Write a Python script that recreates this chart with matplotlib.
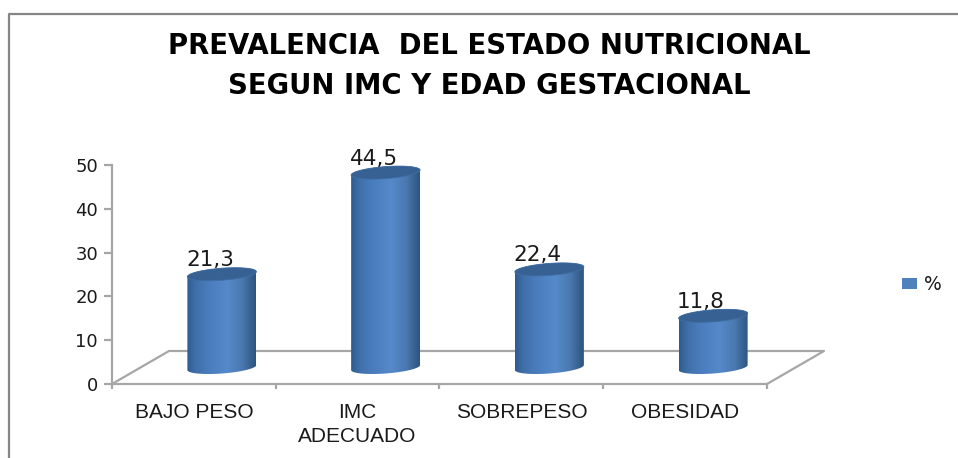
import numpy as np
import matplotlib
matplotlib.use("Agg")
from matplotlib import pyplot as plt
from matplotlib.colors import LinearSegmentedColormap
from matplotlib.lines import Line2D
from matplotlib.patches import Polygon, Rectangle

categories = ["BAJO PESO", "IMC\nADECUADO", "SOBREPESO", "OBESIDAD"]
values = [21.3, 44.5, 22.4, 11.8]
value_labels = ["21,3", "44,5", "22,4", "11,8"]
y_ticks = [0, 10, 20, 30, 40, 50]
title = "PREVALENCIA  DEL ESTADO NUTRICIONAL\nSEGUN IMC Y EDAD GESTACIONAL"
series_name = "%"

W, H = 958, 458
GREY = "#a6a6a6"
TXT = "#1a1a1a"

fig = plt.figure(figsize=(W / 100, H / 100), dpi=100)

# frame around the chart, pixel coordinates (no right side in the picture)
fig.add_artist(Line2D([9 / W, 9 / W, 1], [0, 1 - 14 / H, 1 - 14 / H],
                      color="#868686", lw=1.6))

# plot area: x 112..767, y 384..165 in pixels
ax = fig.add_axes([112 / W, 1 - 384 / H, 655 / W, 219 / H])
ax.set_xlim(-0.5, 3.5)
ax.set_ylim(0, 50)
ax.patch.set_visible(False)
for s in ["top", "right"]:
    ax.spines[s].set_visible(False)
for s in ["left", "bottom"]:
    ax.spines[s].set_color(GREY)
    ax.spines[s].set_linewidth(1.6)

px_x = 4 / 655  # data units per pixel
px_y = 50 / 219

# floor of the 3d box
depth_x = 57 * px_x
depth_y = 33 * px_y
ax.plot([-0.5, -0.5 + depth_x, 3.5 + depth_x, 3.5], [0, depth_y, depth_y, 0],
        color=GREY, lw=1.6, clip_on=False, zorder=1)

cyl = LinearSegmentedColormap.from_list(
    "cyl", [(0, "#2f5b8e"), (0.12, "#3f6fa9"), (0.3, "#4a7cbc"), (0.58, "#5589ca"),
            (0.8, "#4a79b0"), (0.93, "#36608f"), (1, "#2d5480")])
grad = np.linspace(0, 1, 256).reshape(1, -1)

half_w = 34.5 * px_x
ell_h = 6 * px_y
tilt = 2.5 * px_y
base = 16.5 * px_y
t = np.linspace(0, 2 * np.pi, 120)

for i, v in enumerate(values):
    cx = i + 28 * px_x
    top = base + v
    ex = half_w * np.cos(t)
    ey = ell_h * np.sin(t) + tilt * np.cos(t)
    # body: front half of the bottom ellipse + back half of the top one
    front = t[(t >= np.pi) & (t <= 2 * np.pi)]
    fx = cx + half_w * np.cos(front)
    fy = base + ell_h * np.sin(front) + tilt * np.cos(front)
    back = t[t <= np.pi]
    bx = cx + half_w * np.cos(back)
    by = top + ell_h * np.sin(back) + tilt * np.cos(back)
    body = Polygon(np.column_stack([np.r_[fx, bx], np.r_[fy, by]]), closed=True,
                   transform=ax.transData, fc="none", ec="none")
    ax.add_patch(body)
    im = ax.imshow(grad, extent=[cx - half_w, cx + half_w, 0, top + ell_h + tilt], aspect="auto",
                   cmap=cyl, zorder=3, interpolation="bilinear")
    im.set_clip_path(body)
    ax.add_patch(Polygon(np.column_stack([cx + ex, top + ey]), closed=True,
                         fc="#376192", ec="#3f6da3", lw=0.6, zorder=4))
    ax.text(i + 16 * px_x, top + 8 * px_y, value_labels[i], ha="center", va="baseline",
            fontsize=15.5, color=TXT, zorder=5, clip_on=False)

ax.set_xlim(-0.5, 3.5)
ax.set_ylim(0, 50)

ax.set_yticks(y_ticks)
ax.set_xticks(range(len(categories)))
ax.set_xticklabels(categories, fontsize=15, family="Liberation Sans", color=TXT, linespacing=1.3)
ax.set_xticks(np.arange(-0.5, 4), minor=True)
ax.tick_params(axis="x", which="major", length=0, pad=14)
ax.tick_params(axis="x", which="minor", length=3.5, width=1.6, color=GREY)
ax.tick_params(axis="y", length=6, width=1.6, color=GREY, labelsize=13, labelcolor=TXT, pad=4)

fig.text(489 / W, 1 - 66 / H, title, ha="center", va="center", fontsize=19.8,
         fontweight="bold", color="black", linespacing=1.55)

# legend
fig.add_artist(Rectangle((902 / W, 1 - 289 / H), 15 / W, 11 / H, transform=fig.transFigure,
                         fc="#4f81bd", ec="none"))
fig.text(924 / W, 1 - 284 / H, series_name, ha="left", va="center", fontsize=13.5, color=TXT)

fig.savefig("out.png", dpi=100)
